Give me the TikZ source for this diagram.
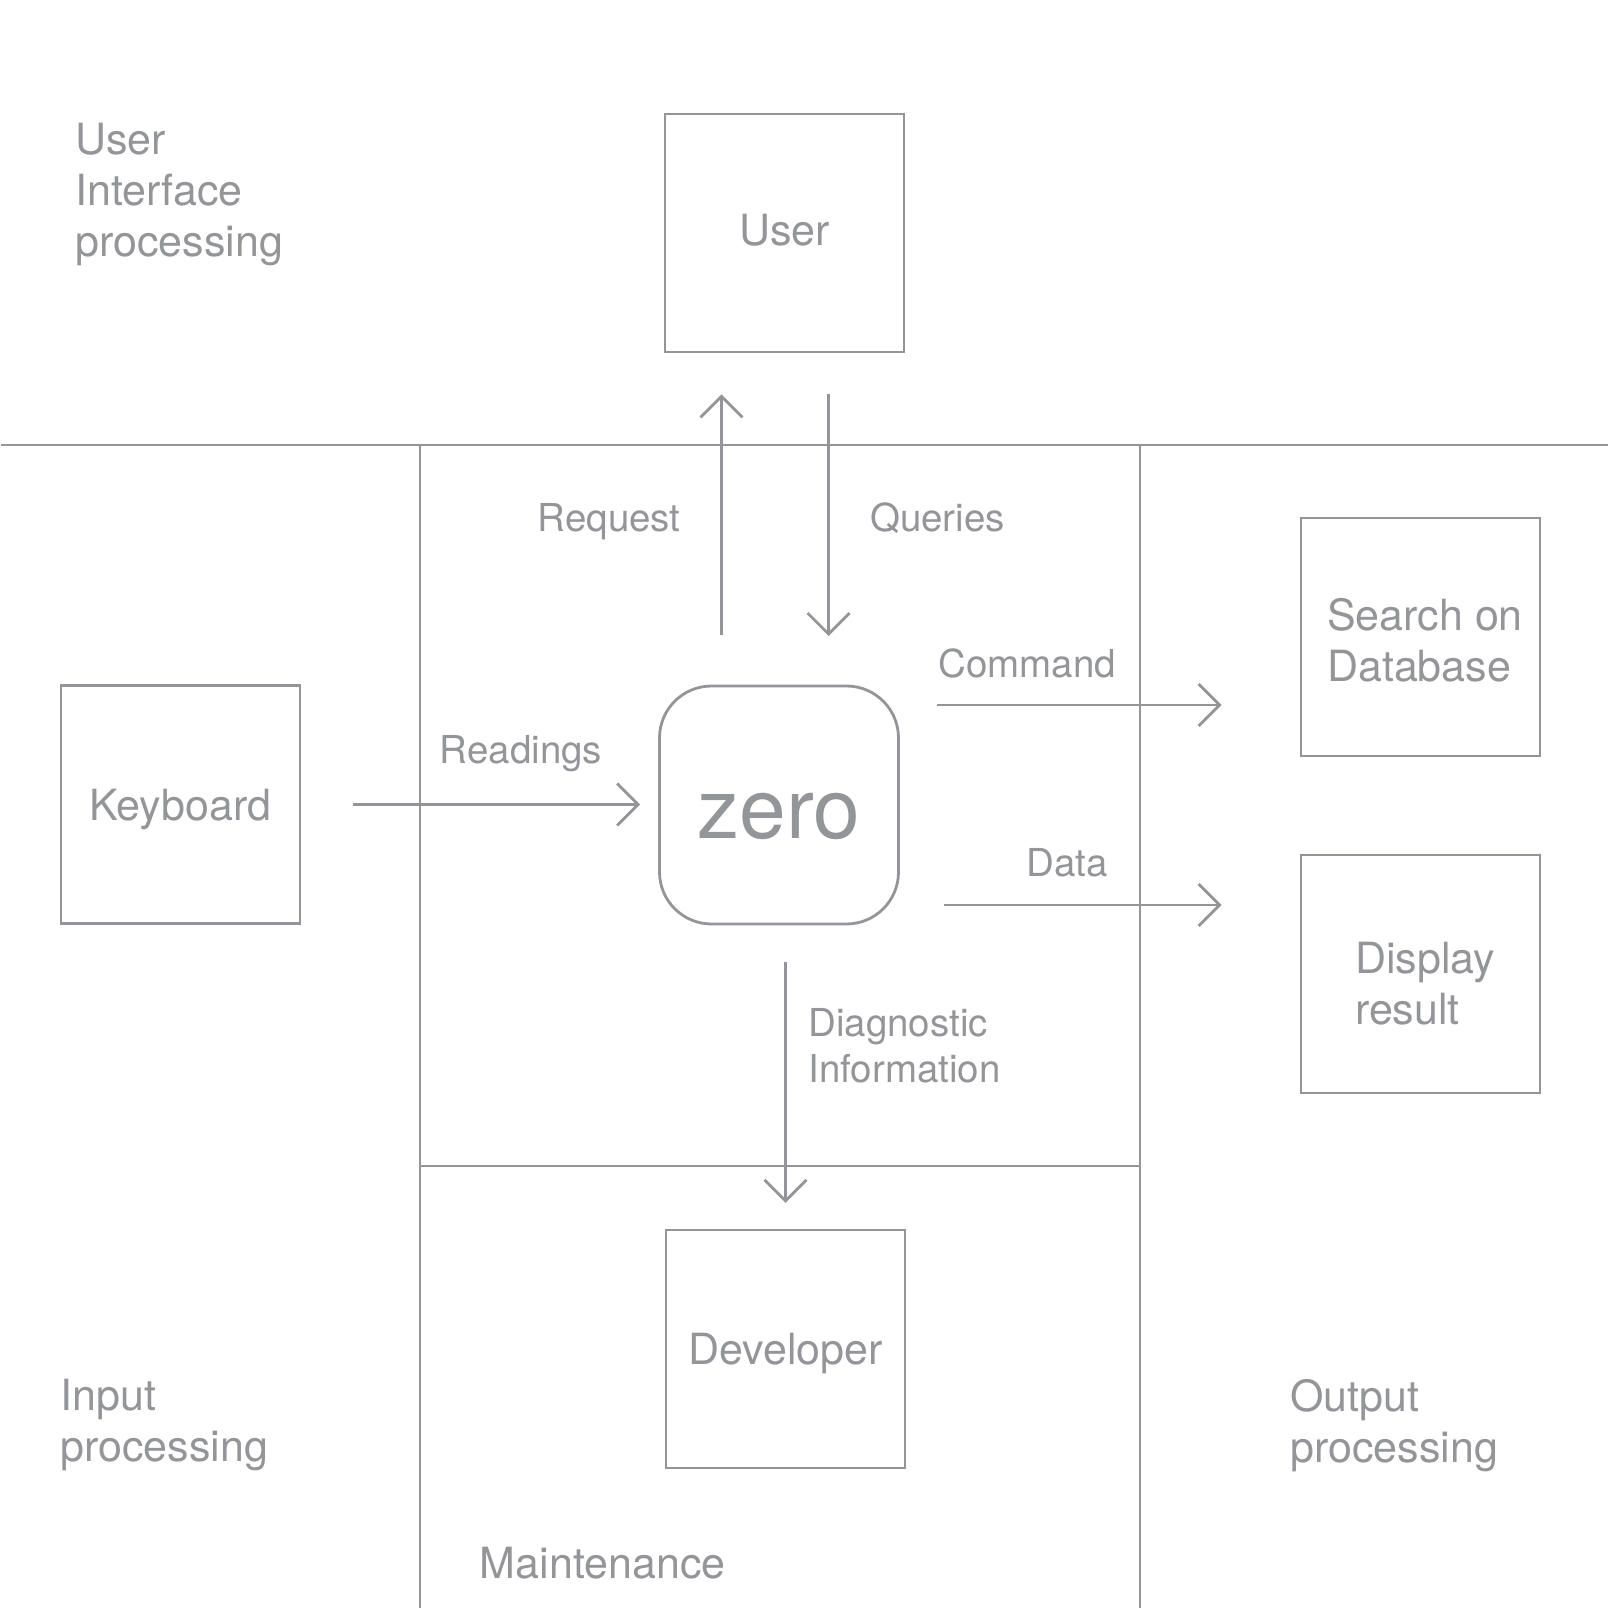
\documentclass[tikz,border=0pt]{standalone}
\usepackage{fontspec}
\setmainfont{TeX Gyre Heros}
\usetikzlibrary{arrows.meta}
\definecolor{linegray}{RGB}{147,149,152}

\begin{document}
\begin{tikzpicture}[x=0.5pt, y=-0.5pt,
    box/.style={draw=linegray, text=linegray, line width=1.4pt, minimum width=119.5pt, minimum height=119pt,
        inner sep=0pt, align=left, font=\fontsize{21.5}{25.75}\selectfont},
    flow/.style={draw=linegray, line width=1.4pt, -{Straight Barb[length=10.5pt,width=21pt]}},
    part/.style={draw=linegray, line width=1.4pt},
    region/.style={text=linegray, inner sep=0pt, align=left, font=\fontsize{21.5}{25.5}\selectfont},
    lbl/.style={text=linegray, inner sep=0pt, align=left, font=\fontsize{19.25}{23}\selectfont}]
    \useasboundingbox (0,0) rectangle (1614,1610);

    % partitions
    \draw[part] (1,445) -- (1608,445);
    \draw[part] (420,445) -- (420,1608);
    \draw[part] (1140,445) -- (1140,1608);
    \draw[part] (420,1166) -- (1140,1166);

    % region names
    \node[region, anchor=north west] (uiname) at (75,123) {User\\Interface\\processing};
    \node[region, anchor=north west] (inname) at (60,1379) {Input\\processing};
    \node[region, anchor=north west] (outname) at (1290,1379) {Output\\processing};
    \node[region, anchor=base west] (mtname) at (479.5,1578) {Maintenance};

    % boxes
    \node[box, text depth=3pt] (user) at (784.5,233) {User};
    \node[box, text depth=0pt] (keyboard) at (180.5,804.5) {Keyboard};
    \node[box] (search) at (1420.5,637) {\rule{0pt}{19.5pt}\hspace*{4.5pt}Search on\\\hspace*{4.5pt}Database};
    \node[box] (display) at (1420.5,974) {\rule{0pt}{25.5pt}\hspace*{4.5pt}Display\\\hspace*{4.5pt}result};
    \node[box, text depth=0pt] (developer) at (785.5,1349) {Developer};
    \node[box, rounded corners=26pt, font=\fontsize{42}{42}\selectfont, text height=33.7pt] (zero) at (779,805) {zero};

    % flows
    \draw[flow, shorten <=24.75pt, shorten >=20.5pt] ([xshift=-28.75pt]zero.north) -- ([xshift=-28.75pt]zero.north |- user.south);
    \draw[flow, shorten <=20.5pt, shorten >=24.25pt] ([xshift=24.8pt]zero.north |- user.south) -- ([xshift=24.8pt]zero.north);
    \draw[flow, shorten <=25.75pt, shorten >=9pt] (keyboard.east) -- (keyboard.east -| zero.west);
    \draw[flow, shorten <=18.5pt, shorten >=39pt] ([yshift=50pt]zero.east) -- ([yshift=50pt]zero.east -| search.west);
    \draw[flow, shorten <=22pt, shorten >=39pt] ([yshift=-50pt]zero.east) -- ([yshift=-50pt]zero.east -| display.west);
    \draw[flow, shorten <=18.5pt, shorten >=12.85pt] (zero.south -| developer.north) -- (developer.north);

    % flow labels
    \node[lbl, anchor=base east] (request) at (681,532) {Request};
    \node[lbl, anchor=base west] (queries) at (869.8,532) {Queries};
    \node[lbl, anchor=base west] (readings) at (439.5,764) {Readings};
    \node[lbl, anchor=base west] (command) at (938,677.5) {Command};
    \node[lbl, anchor=base east] (data) at (1108,877) {Data};
    \node[lbl, anchor=north west] (diag) at (808,1008) {Diagnostic\\Information};
\end{tikzpicture}
\end{document}
